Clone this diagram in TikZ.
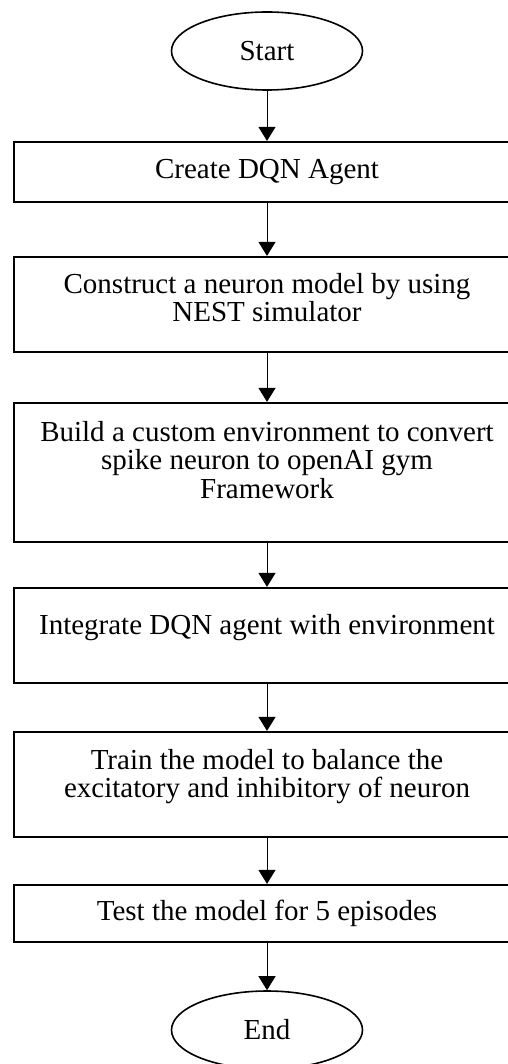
\documentclass[tikz,border=0pt]{standalone}
\usepackage{fontspec}
\setmainfont{Liberation Serif}
\usetikzlibrary{arrows.meta,shapes.geometric}
\begin{document}
\begin{tikzpicture}[x=1pt,y=-1pt,
  every node/.style={font=\fontsize{29}{28.5}\selectfont},
  box/.style={draw, line width=2.2pt, minimum width=506pt, inner sep=0pt},
  term/.style={draw, ellipse, line width=1.6pt, minimum width=191pt, minimum height=78pt, inner sep=0pt},
  lbl/.style={anchor=north, align=center, inner sep=0pt},
  flow/.style={-{Triangle[length=14pt,width=17pt]}, line width=1pt}]
\useasboundingbox[fill=white] (0,0) rectangle (507,1064);
\node[term] (start) at (267,51) {Start};
\node[box, minimum height=60pt] (b1) at (267,172) {Create DQN Agent};
\node[box, minimum height=95pt, label={[lbl, yshift=-17pt]north:{Construct a neuron model by using\\NEST simulator}}] (b2) at (267,304.5) {};
\node[box, minimum height=139pt, label={[lbl, yshift=-19pt]north:{Build a custom environment to convert\\spike neuron to openAI gym\\Framework}}] (b3) at (267,472.5) {};
\node[box, minimum height=95pt, label={[lbl, yshift=-27pt]north:{Integrate DQN agent with environment}}] (b4) at (267,635.5) {};
\node[box, minimum height=105pt, label={[lbl, yshift=-18pt]north:{Train the model to balance the\\excitatory and inhibitory of neuron}}] (b5) at (267,784.5) {};
\node[box, minimum height=57pt] (b6) at (267,913.5) {Test the model for 5 episodes};
\node[term] (end) at (267,1030) {End};
\draw[flow] (start) -- (b1);
\draw[flow] (b1) -- (b2);
\draw[flow] (b2) -- (b3);
\draw[flow] (b3) -- (b4);
\draw[flow] (b4) -- (b5);
\draw[flow] (b5) -- (b6);
\draw[flow] (b6) -- (end);
\end{tikzpicture}
\end{document}
